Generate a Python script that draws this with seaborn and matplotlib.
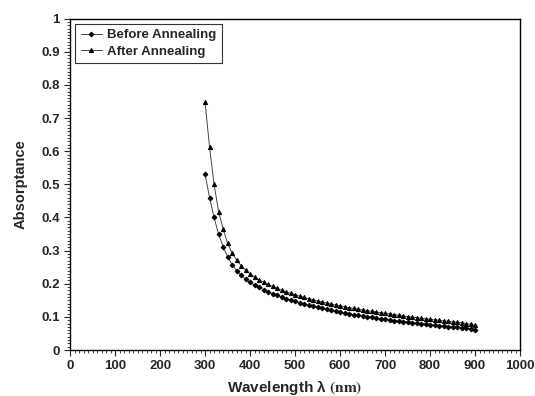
import numpy as np
import pandas as pd
import seaborn as sns
import matplotlib.pyplot as plt
from matplotlib.ticker import MultipleLocator

wavelength = list(range(300, 901, 10))

before = [0.530, 0.460, 0.400, 0.350, 0.312, 0.282, 0.258, 0.240, 0.226, 0.214,
          0.204, 0.196, 0.189, 0.182, 0.176, 0.170, 0.165, 0.160, 0.155, 0.151,
          0.147, 0.143, 0.139, 0.135, 0.132, 0.129, 0.126, 0.123, 0.120, 0.117,
          0.114, 0.112, 0.110, 0.107, 0.105, 0.103, 0.101, 0.099, 0.097, 0.095,
          0.093, 0.091, 0.089, 0.088, 0.086, 0.084, 0.083, 0.081, 0.080, 0.078,
          0.077, 0.075, 0.074, 0.073, 0.071, 0.070, 0.069, 0.067, 0.066, 0.064,
          0.062]

after = [0.748, 0.612, 0.500, 0.418, 0.366, 0.322, 0.293, 0.272, 0.255, 0.241,
         0.230, 0.220, 0.212, 0.205, 0.198, 0.192, 0.186, 0.181, 0.176, 0.171,
         0.167, 0.163, 0.159, 0.155, 0.152, 0.148, 0.145, 0.142, 0.139, 0.136,
         0.133, 0.131, 0.128, 0.126, 0.123, 0.121, 0.119, 0.117, 0.115, 0.113,
         0.111, 0.109, 0.107, 0.105, 0.103, 0.101, 0.099, 0.098, 0.096, 0.094,
         0.093, 0.091, 0.090, 0.088, 0.087, 0.085, 0.084, 0.082, 0.080, 0.078,
         0.075]

sns.set_style('ticks')
plt.rcParams['font.family'] = ['Liberation Sans', 'DejaVu Sans']
plt.rcParams['font.weight'] = 'bold'
plt.rcParams['mathtext.fontset'] = 'stix'

df = pd.DataFrame({'wl': wavelength, 'before': before, 'after': after})

fig = plt.figure(figsize=(5.35, 3.96), dpi=100)
ax = fig.add_axes([0.131, 0.116, 0.841, 0.837])

sns.lineplot(data=df, x='wl', y='before', ax=ax, color='#444444', lw=0.7,
             marker='D', markersize=2.4, markerfacecolor='black',
             markeredgecolor='black', label='Before Annealing')
sns.lineplot(data=df, x='wl', y='after', ax=ax, color='#444444', lw=0.7,
             marker='^', markersize=3, markerfacecolor='black',
             markeredgecolor='black', label='After Annealing')

ax.set_xlim(0, 1000)
ax.set_ylim(0, 1)
ax.xaxis.set_major_locator(MultipleLocator(100))
ax.xaxis.set_minor_locator(MultipleLocator(10))
ax.yaxis.set_minor_locator(MultipleLocator(0.01))
ax.set_yticks(np.arange(0, 1.01, 0.1))
ax.set_yticklabels(['0', '0.1', '0.2', '0.3', '0.4', '0.5', '0.6', '0.7', '0.8', '0.9', '1'])
ax.tick_params(which='major', length=4, width=0.8, labelsize=9.5, direction='out')
ax.tick_params(which='minor', length=2, width=0.6, direction='out')
for lab in ax.get_xticklabels() + ax.get_yticklabels():
    lab.set_fontweight('bold')

for s in ax.spines.values():
    s.set_visible(True)
    s.set_color('black')
    s.set_linewidth(1.0)

ax.set_xlabel(r'Wavelength λ $\mathbf{(nm)}$', fontsize=11, fontweight='bold', labelpad=4)
ax.set_ylabel('Absorptance', fontsize=10.5, fontweight='bold', labelpad=10)

leg = ax.legend(loc='upper left', frameon=True, fancybox=False, fontsize=9.5,
                edgecolor='black', handlelength=1.6, borderaxespad=0.4,
                handletextpad=0.4, labelspacing=0.3)
leg.get_frame().set_linewidth(0.8)
for t in leg.get_texts():
    t.set_fontweight('bold')

fig.savefig('out.png', dpi=100)
